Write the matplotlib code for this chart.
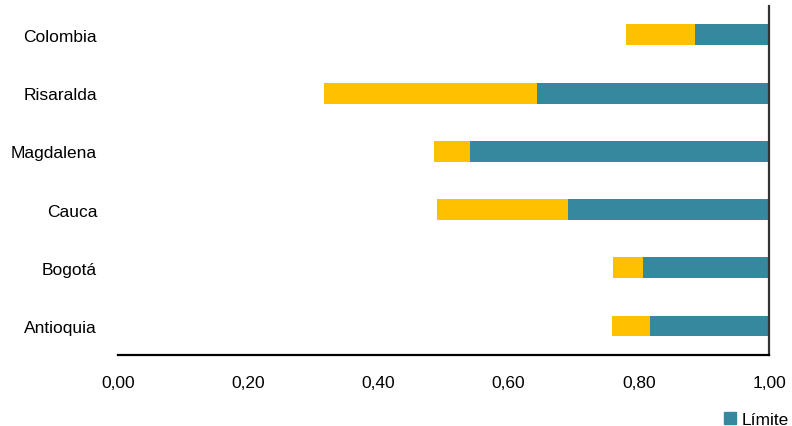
import matplotlib.pyplot as plt
from matplotlib.patches import Patch

regions = ["Colombia", "Risaralda", "Magdalena", "Cauca", "Bogotá", "Antioquia"]
lower = [0.780, 0.316, 0.485, 0.490, 0.760, 0.759]
limite = [0.886, 0.643, 0.541, 0.691, 0.807, 0.817]
upper = [1.00, 1.00, 1.00, 1.00, 1.00, 1.00]
xticks = [0.0, 0.2, 0.4, 0.6, 0.8, 1.0]

yellow = "#FFC000"
teal = "#35889E"

plt.rcParams["font.family"] = ["Liberation Sans", "DejaVu Sans"]

fig = plt.figure(figsize=(7.92, 4.27), dpi=100)
ax = fig.add_axes([0.149, 0.166, 0.822, 0.818])

y = list(range(len(regions)))[::-1]
h = 0.36
ax.barh(y, [m - l for l, m in zip(lower, limite)], left=lower, height=h, color=yellow)
ax.barh(y, [u - m for m, u in zip(limite, upper)], left=limite, height=h, color=teal)

ax.set_xlim(0, 1.0)
ax.set_ylim(-0.5, len(regions) - 0.5)
ax.set_yticks(y)
ax.set_yticklabels(regions, fontsize=12.5)
ax.set_xticks(xticks)
ax.set_xticklabels([f"{v:.2f}".replace(".", ",") for v in xticks], fontsize=12.5)
ax.tick_params(axis="y", length=0, pad=15)
ax.tick_params(axis="x", length=0, pad=14.5)

ax.spines["left"].set_visible(False)
ax.spines["top"].set_visible(False)
ax.spines["bottom"].set_linewidth(1.6)
ax.spines["right"].set_linewidth(1.6)
ax.spines["right"].set_color("#333333")

fig.legend(handles=[Patch(color=teal, label="Límite")], loc="lower right",
           bbox_to_anchor=(1.0, -0.01), borderaxespad=0.1, borderpad=0.1,
           frameon=False, fontsize=12.5,
           handlelength=0.7, handleheight=0.7, handletextpad=0.3)

fig.savefig("out.png", dpi=100)
